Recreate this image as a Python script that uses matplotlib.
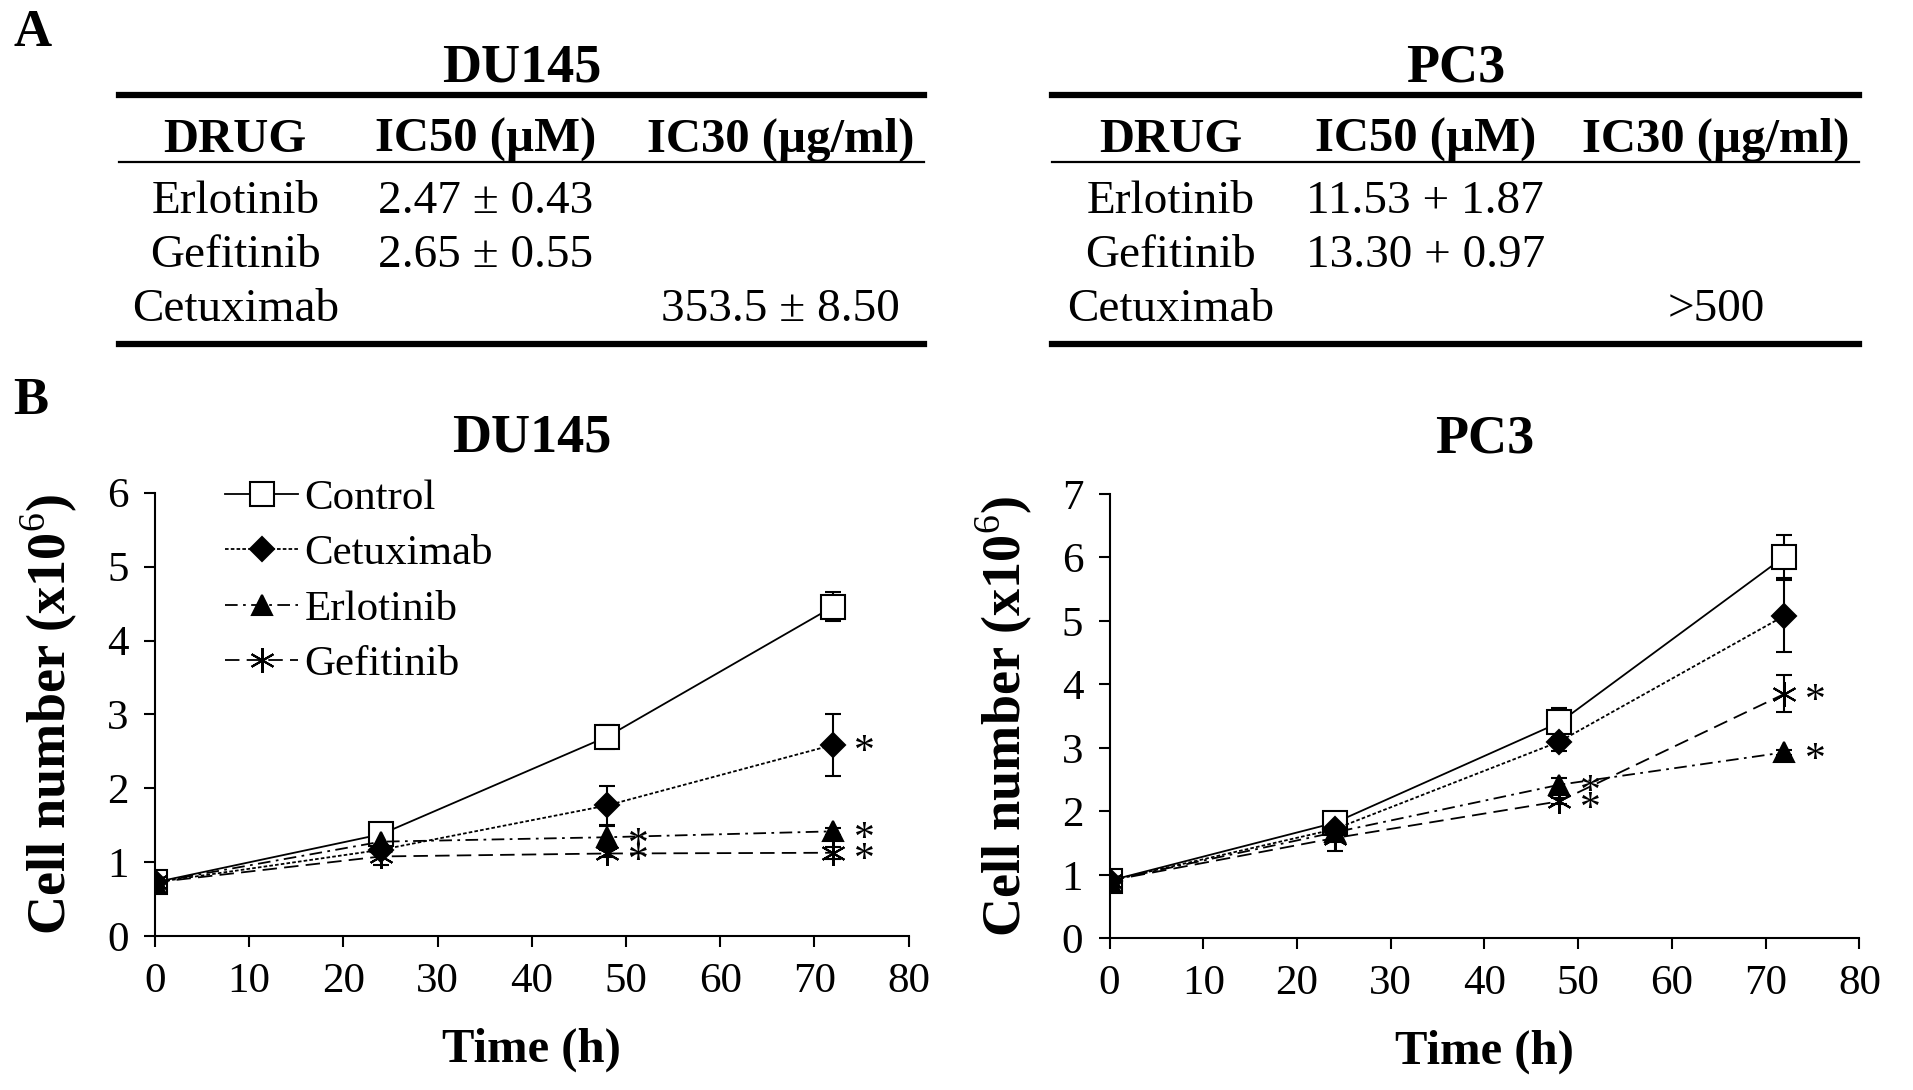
import matplotlib.pyplot as plt
from matplotlib.lines import Line2D

plt.rcParams['font.family'] = ['Liberation Serif', 'DejaVu Serif']
plt.rcParams['mathtext.fontset'] = 'custom'
plt.rcParams['mathtext.rm'] = 'Liberation Serif'
plt.rcParams['mathtext.bf'] = 'Liberation Serif:bold'

# ---- table data (panel A)
table_drugs = ['Erlotinib', 'Gefitinib', 'Cetuximab']
table_header = ['DRUG', 'IC50 (\u00b5M)', 'IC30 (\u00b5g/ml)']
du_ic50 = ['2.47 \u00b1 0.43', '2.65 \u00b1 0.55', '']
du_ic30 = ['', '', '353.5 \u00b1 8.50']
pc_ic50 = ['11.53 + 1.87', '13.30 + 0.97', '']
pc_ic30 = ['', '', '>500']

# ---- growth curves (panel B)
hours = [0, 24, 48, 72]
series = ['Control', 'Cetuximab', 'Erlotinib', 'Gefitinib']

du_control = [0.73, 1.38, 2.70, 4.46]
du_cetux = [0.73, 1.17, 1.77, 2.59]
du_erlot = [0.73, 1.28, 1.34, 1.42]
du_gefit = [0.73, 1.08, 1.12, 1.13]
du_control_err = [0.03, 0.05, 0.16, 0.20]
du_cetux_err = [0.03, 0.05, 0.26, 0.42]
du_erlot_err = [0.03, 0.05, 0.15, 0.05]
du_gefit_err = [0.03, 0.12, 0.05, 0.08]
du_stars = [[], [72], [48, 72], [48, 72]]

pc_control = [0.91, 1.82, 3.40, 6.01]
pc_cetux = [0.91, 1.72, 3.10, 5.08]
pc_erlot = [0.91, 1.67, 2.42, 2.93]
pc_gefit = [0.91, 1.58, 2.16, 3.85]
pc_control_err = [0.05, 0.16, 0.23, 0.34]
pc_cetux_err = [0.05, 0.08, 0.15, 0.57]
pc_erlot_err = [0.05, 0.08, 0.10, 0.04]
pc_gefit_err = [0.05, 0.20, 0.05, 0.29]
pc_stars = [[], [], [48, 72], [48, 72]]

styles = [
    dict(ls='-', marker='s', mfc='white', ms=17),
    dict(ls=(0, (2, 1.2)), marker='D', mfc='black', ms=12),
    dict(ls=(0, (7, 3, 1.5, 3)), marker='^', mfc='black', ms=14),
    dict(ls=(0, (8, 4)), marker=(6, 2, 0), mfc='black', ms=18),
]

fig = plt.figure(figsize=(19.13, 10.9), dpi=100)

fig.text(0.007, 0.970, 'A', fontsize=38, fontweight='bold', va='center', ha='left')
fig.text(0.007, 0.632, 'B', fontsize=38, fontweight='bold', va='center', ha='left')


def draw_table(title, x0, x1, cols, ic50, ic30):
    fig.text((x0 + x1) / 2, 0.937, title, fontsize=39, fontweight='bold', ha='center', va='center')
    fig.add_artist(Line2D([x0, x1], [0.913, 0.913], color='black', lw=4.5, transform=fig.transFigure))
    fig.add_artist(Line2D([x0, x1], [0.851, 0.851], color='black', lw=1.6, transform=fig.transFigure))
    fig.add_artist(Line2D([x0, x1], [0.684, 0.684], color='black', lw=4.5, transform=fig.transFigure))
    for cx, h in zip(cols, table_header):
        fig.text(cx, 0.872, h, fontsize=35, fontweight='bold', ha='center', va='center')
    rows_y = [0.815, 0.765, 0.716]
    for y, d, a, b in zip(rows_y, table_drugs, ic50, ic30):
        fig.text(cols[0], y, d, fontsize=34, ha='center', va='center')
        fig.text(cols[1], y, a, fontsize=34, ha='center', va='center')
        fig.text(cols[2], y, b, fontsize=34, ha='center', va='center')


draw_table('DU145', 0.062, 0.483, [0.123, 0.254, 0.408], du_ic50, du_ic30)
draw_table('PC3', 0.550, 0.972, [0.612, 0.745, 0.897], pc_ic50, pc_ic30)


def draw_growth(ax, means, errs, stars, ymax, title, legend):
    for name, m, e, st, s in zip(series, means, errs, stars, styles):
        ax.errorbar(hours, m, yerr=e, color='black', lw=1.3, ls=s['ls'],
                    marker=s['marker'], mfc=s['mfc'], mec='black', ms=s['ms'],
                    mew=1.5, capsize=6, elinewidth=1.5, capthick=1.5, label=name)
        for h in st:
            ax.annotate('*', xy=(h, m[hours.index(h)]), xytext=(15, -6),
                        textcoords='offset points', fontsize=30, ha='left', va='center')
    ax.set_xlim(0, 80)
    ax.set_ylim(0, ymax)
    ax.set_xticks(range(0, 81, 10))
    ax.set_yticks(range(0, ymax + 1))
    ax.spines['top'].set_visible(False)
    ax.spines['right'].set_visible(False)
    ax.spines['left'].set_linewidth(1.5)
    ax.spines['bottom'].set_linewidth(1.5)
    ax.tick_params(labelsize=31, width=1.5, length=8, pad=11)
    ax.set_xlabel('Time (h)', fontsize=35, fontweight='bold', labelpad=19)
    ax.set_ylabel('Cell number (x10$^6$)', fontsize=39, fontweight='bold', labelpad=20)
    ax.set_title(title, fontsize=39, fontweight='bold', pad=30)
    if legend:
        handles, labels = ax.get_legend_handles_labels()
        handles = [h[0] for h in handles]
        ax.legend(handles, labels, loc='upper left', bbox_to_anchor=(0.07, 1.07),
                  frameon=False, fontsize=31, handlelength=1.7, handletextpad=0.15,
                  labelspacing=0.38, numpoints=1, borderaxespad=0)


ax1 = fig.add_axes([0.081, 0.141, 0.394, 0.407])
draw_growth(ax1, [du_control, du_cetux, du_erlot, du_gefit],
            [du_control_err, du_cetux_err, du_erlot_err, du_gefit_err],
            du_stars, 6, 'DU145', True)

ax2 = fig.add_axes([0.580, 0.139, 0.392, 0.408])
draw_growth(ax2, [pc_control, pc_cetux, pc_erlot, pc_gefit],
            [pc_control_err, pc_cetux_err, pc_erlot_err, pc_gefit_err],
            pc_stars, 7, 'PC3', False)

fig.savefig('out.png', dpi=100)
